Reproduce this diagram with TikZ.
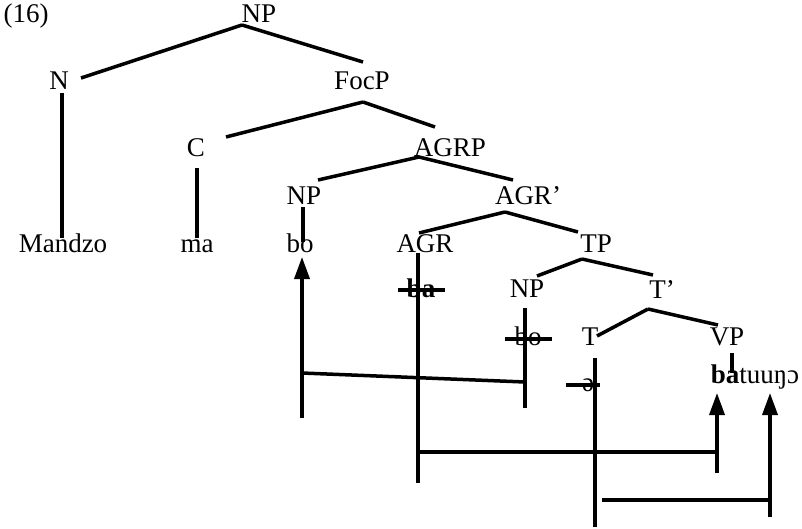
\documentclass[tikz,border=0pt]{standalone}
\usepackage{fontspec}
\setmainfont{Liberation Serif}
\usetikzlibrary{calc,arrows.meta}
\tikzset{
  lbl/.style={anchor=base,inner sep=0pt,font=\fontsize{27}{32}\selectfont},
  edge/.style={line width=3.5pt},
  mv/.style={line width=3.5pt,-{Triangle[width=15pt,length=22pt]}}
}
\begin{document}
\begin{tikzpicture}[x=1pt,y=-1pt]
\useasboundingbox (0,0) rectangle (802,529);
% nodes
\node[lbl] (ex) at (26,23) {(16)};
\node[lbl] (np0) at (259,23) {NP};
\node[lbl] (n) at (59,90) {N};
\node[lbl] (focp) at (362,90) {FocP};
\node[lbl] (c) at (196,157) {C};
\node[lbl] (agrp) at (450,157) {AGRP};
\node[lbl] (np1) at (304,205) {NP};
\node[lbl] (agrb) at (528,205) {AGR’};
\node[lbl] (mandzo) at (63,252) {Mandzo};
\node[lbl] (ma) at (197,252) {ma};
\node[lbl] (bo) at (300,252) {bo};
\node[lbl] (agr) at (425,252) {AGR};
\node[lbl] (tp) at (596,252) {TP};
\node[lbl] (baS) at (421,297) {\bfseries ba};
\node[lbl] (np2) at (527,297) {NP};
\node[lbl] (tb) at (662,298) {T’};
\node[lbl] (boS) at (528,345) {bo};
\node[lbl] (t) at (590,345) {T};
\node[lbl] (vp) at (727,345) {VP};
\node[lbl] (schwa) at (588,391) {ə};
\node[lbl] (verb) at (755,383) {\textbf{ba}tuuŋɔ};
% tree edges
\draw[edge] ($(np0.base)+(-17,2)$) -- ($(n.base)+(22,-12)$);
\draw[edge] ($(np0.base)+(-17,2)$) -- ($(focp.base)+(1,-28)$);
\draw[edge] ($(n.base)+(3,3)$) -- ($(mandzo.base)+(-1,-14)$);
\draw[edge] ($(focp.base)+(1,12)$) -- ($(c.base)+(30,-20)$);
\draw[edge] ($(focp.base)+(1,12)$) -- ($(agrp.base)+(-15,-30)$);
\draw[edge] ($(c.base)+(1,11)$) -- ($(ma.base)+(0,-14)$);
\draw[edge] ($(agrp.base)+(-31,0)$) -- ($(np1.base)+(14,-25)$);
\draw[edge] ($(agrp.base)+(-31,0)$) -- ($(agrb.base)+(-15,-25)$);
\draw[edge] ($(np1.base)+(-1,2)$) -- ($(bo.base)+(3,-10)$);
\draw[edge] ($(agrb.base)+(-23,7)$) -- ($(agr.base)+(-6,-19)$);
\draw[edge] ($(agrb.base)+(-23,7)$) -- ($(tp.base)+(-18,-20)$);
\draw[edge] ($(tp.base)+(-14,7)$) -- ($(np2.base)+(10,-21)$);
\draw[edge] ($(tp.base)+(-14,7)$) -- ($(tb.base)+(-9,-23)$);
\draw[edge] ($(tb.base)+(-14,11)$) -- ($(t.base)+(7,-9)$);
\draw[edge] ($(tb.base)+(-14,11)$) -- ($(vp.base)+(-9,-20)$);
\draw[edge] ($(vp.base)+(5,8)$) -- ($(verb.base)+(-23,-10)$);
% strike-throughs
\draw[edge] ($(baS.base)+(-23,-7)$) -- ($(baS.base)+(24,-7)$);
\draw[edge] ($(boS.base)+(-23,-6)$) -- ($(boS.base)+(24,-6)$);
\draw[edge] ($(schwa.base)+(-22,-6)$) -- ($(schwa.base)+(12,-6)$);
% movement: bo
\coordinate (b1) at (302,418);
\coordinate (b2) at (302,373);
\coordinate (b3) at (525,382);
\coordinate (b4) at (525,408);
\draw[mv] (b1) -- ($(bo.base)+(2,5)$);
\draw[edge] (b2) -- (b3);
\draw[edge] ($(np2.base)+(-2,11)$) -- (b4);
% movement: ba
\coordinate (a1) at (418,483);
\coordinate (a2) at (420,452);
\coordinate (a3) at (718,452);
\coordinate (a4) at (717,473);
\draw[edge] ($(agr.base)+(-7,1)$) -- (a1);
\draw[edge] (a2) -- (a3);
\draw[mv] (a4) -- ($(verb.base)+(-38,10)$);
% movement: schwa
\coordinate (c1) at (595,527);
\coordinate (c2) at (602,500);
\coordinate (c3) at (770,500);
\coordinate (c4) at (770,517);
\draw[edge] ($(t.base)+(5,13)$) -- (c1);
\draw[edge] (c2) -- (c3);
\draw[mv] (c4) -- ($(verb.base)+(15,10)$);
\end{tikzpicture}
\end{document}
